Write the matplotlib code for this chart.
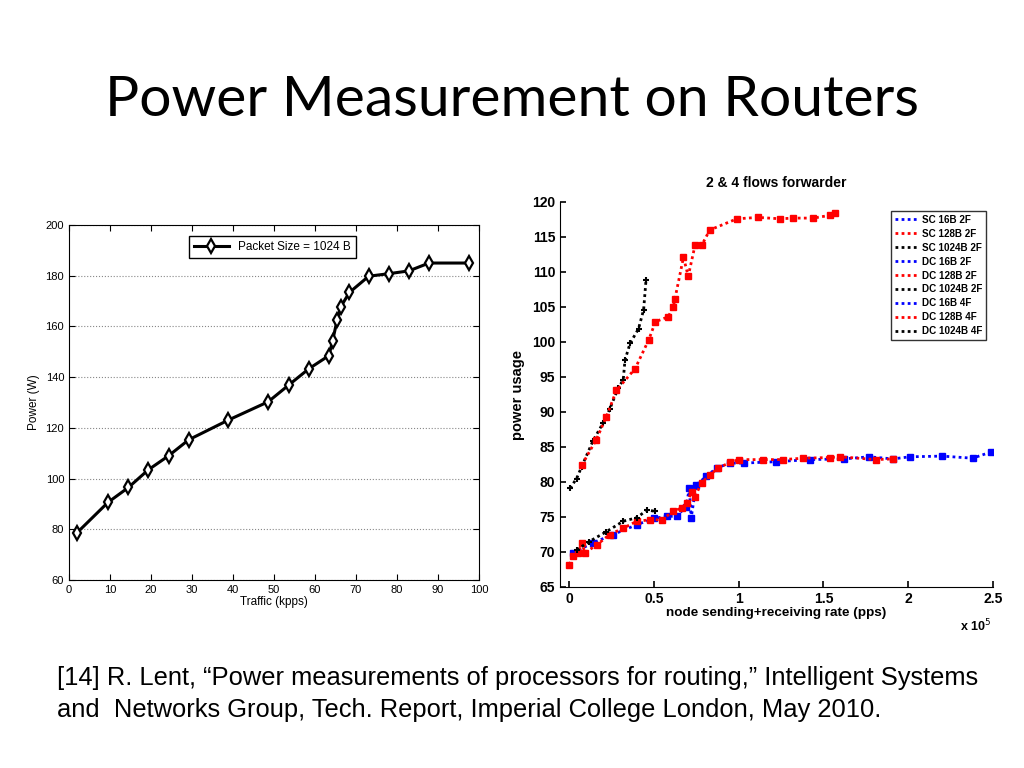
import matplotlib
matplotlib.use('Agg')
from matplotlib import pyplot as plt
from matplotlib.ticker import FuncFormatter, MultipleLocator

# left panel: Power vs traffic, packet size 1024 B
traffic = [2, 9.5, 14.5, 19.3, 24.3, 29.2, 38.9, 48.6, 53.6, 58.5, 63.4, 64.3,
           65.4, 66.3, 68.4, 73.1, 78.0, 82.9, 87.8, 97.6]
power = [78.7, 90.6, 96.5, 103.4, 109.0, 115.3, 123.1, 130.3, 136.9, 143.3,
         148.5, 154.4, 162.5, 167.8, 173.4, 179.8, 180.8, 181.9, 185.0, 185.0]

# right panel: 2 & 4 flows forwarder (rate in pps)
sc1024_x = [600, 4500, 7500, 14000, 20000, 24000, 29000, 32000, 33000, 36000,
            41000, 44000, 45400]
sc1024_y = [79.1, 80.5, 82.2, 85.8, 88.4, 90.4, 93.4, 94.6, 97.4, 99.8, 101.9,
            104.6, 108.8]

sc128_x = [7500, 16000, 22000, 28000, 39000, 47000, 51000, 58500, 61500, 62500,
           67500, 70300, 74300, 78200, 83000, 99000, 111500, 124500, 132000,
           144000, 154000, 157000]
sc128_y = [82.4, 86.0, 89.3, 93.1, 96.2, 100.3, 102.9, 103.6, 105.0, 106.2,
           112.1, 109.4, 113.8, 113.8, 116.0, 117.6, 117.8, 117.6, 117.7,
           117.7, 118.1, 118.4]

dc16_x = [2500, 14000, 26000, 40000, 50000, 58000, 63500, 69000, 71000, 72000,
          75000, 81000, 87000, 95000, 103000, 122000, 142000, 162000, 177000,
          191000, 201000, 220000, 238000, 249000]
dc16_y = [69.9, 71.3, 72.5, 73.9, 74.8, 75.1, 75.1, 76.5, 79.1, 74.8, 79.6,
          80.8, 82.0, 82.7, 82.7, 82.9, 83.2, 83.3, 83.6, 83.3, 83.6, 83.7,
          83.4, 84.3]

dc128_x = [200, 2500, 5500, 7500, 9400, 16300, 24000, 32000, 40000, 48000,
           54600, 61500, 66400, 69400, 72300, 74300, 78200, 83000, 88000,
           95000, 100000, 114500, 126000, 138000, 154000, 160000, 181000,
           191000]
dc128_y = [68.2, 69.4, 69.9, 71.3, 69.9, 71.0, 72.5, 73.4, 74.4, 74.6, 74.6,
           75.8, 76.3, 77.0, 78.6, 77.9, 79.9, 81.0, 82.0, 82.8, 83.2, 83.2,
           83.2, 83.4, 83.5, 83.6, 83.2, 83.3]

dc1024_x = [4500, 12000, 22000, 32000, 40000, 46000, 51000]
dc1024_y = [70.3, 71.5, 72.9, 74.4, 74.9, 76.0, 75.8]

legend_names = ['SC 16B 2F', 'SC 128B 2F', 'SC 1024B 2F', 'DC 16B 2F',
                'DC 128B 2F', 'DC 1024B 2F', 'DC 16B 4F', 'DC 128B 4F',
                'DC 1024B 4F']
legend_colors = ['blue', 'red', 'black'] * 3

plt.rcParams['font.family'] = ['Liberation Sans', 'DejaVu Sans']

fig = plt.figure(figsize=(10.24, 7.68), dpi=100)

fig.text(0.5, 1 - 100 / 768, 'Power Measurement on Routers', ha='center',
         va='center', fontsize=41, family=['Lato', 'DejaVu Sans'])

# ---- left panel
ax1 = fig.add_axes([69 / 1024, 1 - 580 / 768, 410 / 1024, 355 / 768])
ax1.plot(traffic, power, color='black', lw=2.2, marker='d', ms=7,
         mfc='white', mec='black', mew=1.6, label='Packet Size = 1024 B')
ax1.set_xlim(0, 100)
ax1.set_ylim(60, 200)
ax1.xaxis.set_major_locator(MultipleLocator(10))
ax1.yaxis.set_major_locator(MultipleLocator(20))
ax1.yaxis.grid(True, ls=':', color='#888888', lw=0.8)
ax1.tick_params(direction='in', labelsize=8, length=4, top=True, right=True)
ax1.set_xlabel('Traffic (kpps)', fontsize=8.5, labelpad=1)
ax1.set_ylabel('Power (W)', fontsize=8.5, labelpad=4)
ax1.legend(loc='upper center', fontsize=8.5, fancybox=False, edgecolor='black',
           framealpha=1, borderpad=0.4, handlelength=3,
           bbox_to_anchor=(0.496, 0.985))

# ---- right panel
ax2 = fig.add_axes([560 / 1024, 1 - 587 / 768, 433 / 1024, 385 / 768])
dot = dict(ls=(0, (1, 1.2)), lw=2.0)
ax2.plot(sc1024_x, sc1024_y, color='black', marker='+', ms=4, mew=1.5, **dot)
ax2.plot(sc128_x, sc128_y, color='red', marker='s', ms=4.5, **dot)
ax2.plot(dc16_x, dc16_y, color='blue', marker='s', ms=4.5, **dot)
ax2.plot(dc128_x, dc128_y, color='red', marker='s', ms=4.5, **dot)
ax2.plot(dc1024_x, dc1024_y, color='black', marker='+', ms=4, mew=1.5, **dot)

handles = []
for name, c in zip(legend_names, legend_colors):
    h, = ax2.plot([], [], color=c, label=name, **dot)
    handles.append(h)
leg = ax2.legend(handles=handles, loc='upper right', fontsize=7.1,
                 fancybox=False, edgecolor='#333333', framealpha=1,
                 borderpad=0.4, labelspacing=0.4, handlelength=2.2,
                 handletextpad=0.5, bbox_to_anchor=(0.995, 0.99))
for t in leg.get_texts():
    t.set_fontweight('bold')

ax2.set_xlim(-5300, 250000)
ax2.set_ylim(65, 120)
ax2.xaxis.set_major_locator(MultipleLocator(50000))
ax2.yaxis.set_major_locator(MultipleLocator(5))
ax2.xaxis.set_major_formatter(FuncFormatter(lambda v, p: f'{v / 1e5:g}'))
ax2.spines['top'].set_visible(False)
ax2.spines['right'].set_visible(False)
ax2.tick_params(direction='in', labelsize=10, length=4, width=1.2)
for lab in ax2.get_xticklabels() + ax2.get_yticklabels():
    lab.set_fontweight('bold')
ax2.set_title('2 & 4 flows forwarder', fontsize=10, fontweight='bold', pad=11)
ax2.set_xlabel('node sending+receiving rate (pps)', fontsize=9.7,
               fontweight='bold', labelpad=1)
ax2.set_ylabel('power usage', fontsize=10.5, fontweight='bold', labelpad=5)
ax2.text(0.995, -0.1, r'x 10$^5$', transform=ax2.transAxes, ha='right',
         va='center', fontsize=9, fontweight='bold')

cap = ('[14] R. Lent, \u201cPower measurements of processors for routing,\u201d '
       'Intelligent Systems\nand  Networks Group, Tech. Report, Imperial '
       'College London, May 2010.')
fig.text(57 / 1024, 1 - 694 / 768, cap, ha='left', va='center', fontsize=18.4,
         linespacing=1.42, family=['Liberation Sans', 'DejaVu Sans'])

fig.savefig('out.png', dpi=100)
